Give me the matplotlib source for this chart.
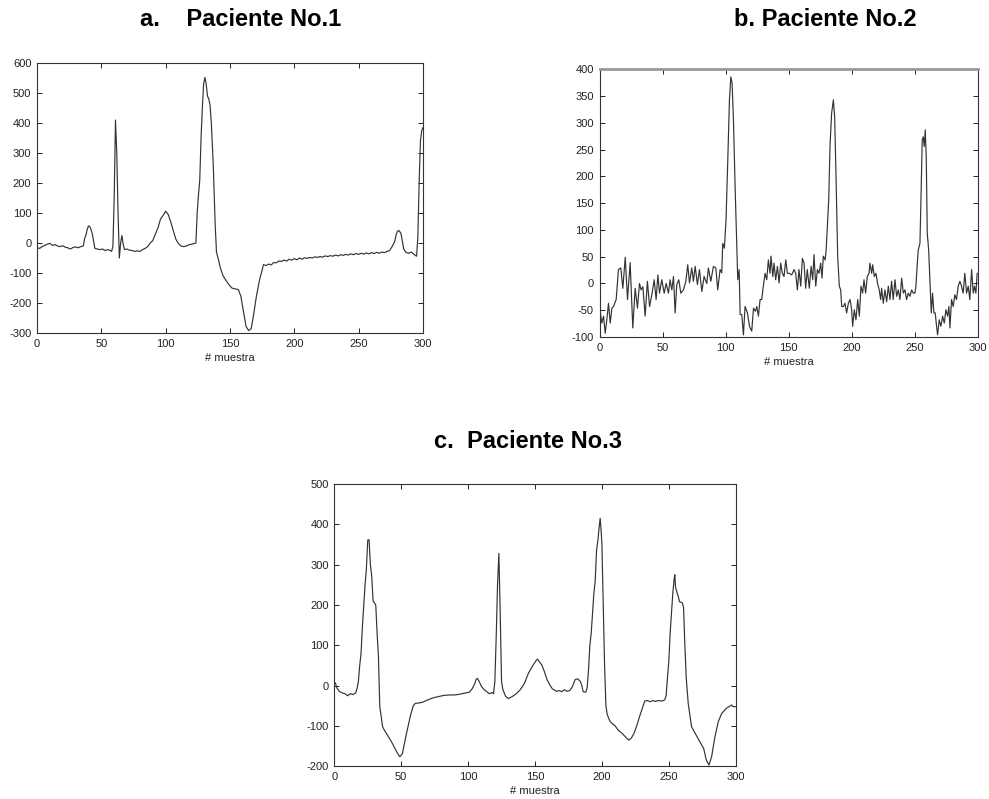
import matplotlib
matplotlib.use("Agg")
import matplotlib.pyplot as plt
from matplotlib.ticker import MultipleLocator

plt.rcParams["font.family"] = ["Liberation Sans", "DejaVu Sans"]
plt.rcParams["axes.unicode_minus"] = False

# --- Paciente No.1 ---
p1_x = [0, 2, 4, 6, 8, 10, 12, 14, 16, 18, 20, 22, 24, 26, 28, 30, 32, 34, 36, 37, 38, 39, 40, 41,
        42, 43, 44, 45, 47, 49, 51, 53, 55, 57, 58, 59, 60, 61, 62, 63, 64, 65, 66, 67, 68, 70, 72,
        74, 76, 78, 80, 82, 84, 86, 88, 90, 92, 94, 96, 98, 100, 102, 104, 106, 108, 110, 112, 114,
        116, 118, 120, 122, 123.5, 124.5, 125.5, 126.5, 127.5, 128.5, 129.5, 130.5, 131.5, 132.5,
        133.5, 134.5, 135.5, 137, 138.5, 139.5, 141, 142.5, 144.5, 146.5, 149, 151.5, 154, 156.5,
        158.5, 160.5, 162.5, 164.5, 166.5, 168.5, 170.5, 173, 175, 176, 178, 180, 182, 184, 186,
        188, 190, 192, 194, 196, 198, 200, 202, 204, 206, 208, 210, 212, 214, 216, 218, 220, 222,
        224, 226, 228, 230, 232, 234, 236, 238, 240, 242, 244, 246, 248, 250, 252, 254, 256, 258,
        260, 262, 264, 266, 268, 270, 272, 274, 276, 278, 279, 280, 281, 282, 283, 284, 285, 287,
        289, 291, 293, 295, 296, 297, 298, 299, 300]
p1_y = [-15, -18, -12, -8, -4, -1, -8, -5, -10, -12, -9, -14, -16, -20, -15, -13, -16, -12, -10, 15,
        25, 45, 57, 55, 45, 30, 5, -18, -20, -22, -20, -25, -22, -25, -28, -10, 150, 410, 300, 100,
        -50, 0, 25, -5, -22, -20, -24, -25, -28, -26, -28, -22, -18, -12, 0, 8, 30, 50, 80, 92, 106,
        95, 70, 40, 12, -2, -10, -12, -10, -6, -4, -2, 0, 100, 160, 210, 350, 450, 530, 552, 530,
        490, 480, 460, 400, 260, 60, -30, -55, -83, -108, -122, -138, -150, -153, -155, -178, -230,
        -278, -292, -285, -235, -178, -122, -90, -72, -75, -70, -73, -65, -66, -60, -61, -57, -60,
        -54, -57, -52, -56, -50, -54, -49, -51, -48, -50, -46, -48, -45, -47, -43, -45, -42, -44,
        -40, -43, -39, -41, -38, -40, -36, -39, -35, -38, -34, -37, -33, -36, -32, -35, -31, -34,
        -30, -32, -28, -25, -12, 5, 25, 38, 42, 38, 30, 5, -20, -32, -34, -30, -38, -44, 20, 200,
        340, 375, 385]

# --- Paciente No.2 ---
p2_x = [0.5, 1.8, 3.2, 4.5, 5.8, 7.1, 8.5, 9.8, 11.1, 13.2, 15, 16.9, 18.5, 20.4, 22.2, 24.3, 26.4,
        28.3, 30.1, 31.7, 33, 34.4, 36.2, 38, 39.7, 41.5, 43.4, 44.9, 46.3, 47.6, 49.4, 51.3, 52.9,
        54.7, 56, 57.4, 58.7, 60, 61.3, 62.9, 64.5, 66.6, 68.5, 70, 71.4, 73.2, 74.5, 75.9, 77.7,
        79.3, 81.2, 83, 85.1, 86.4, 88.3, 90.4, 92.3, 93.8, 95.7, 97, 97.8, 99.1, 100.4, 101.8,
        103.1, 104.2, 105.2, 106.3, 107.6, 108.9, 109.7, 110.8, 111.6, 112.9, 114.2, 115.5, 117.4,
        119, 120.8, 122.2, 123.7, 124.8, 126.1, 127.4, 128.7, 130, 131.4, 132.7, 134, 135.3, 136.1,
        137.5, 138.5, 139.8, 141.2, 142.5, 143.8, 145.1, 146.4, 147.8, 149.1, 150.7, 152.5, 154.4,
        155.7, 157, 158.3, 159.7, 161, 162.3, 163.6, 164.9, 166.5, 167.9, 169.2, 170.2, 171.6,
        172.9, 174.2, 175.5, 176.6, 177.6, 179, 179.8, 180.8, 181.9, 182.9, 184.2, 185.6, 186.6,
        187.7, 189, 190.3, 191.4, 192.2, 193.5, 194.8, 196.1, 197.5, 198.8, 200.1, 200.9, 202.2,
        203.5, 204.9, 206.2, 207.5, 208.8, 209.9, 211.2, 212.5, 213.9, 214.6, 216, 216.8, 218.1,
        219.4, 220.7, 222, 223.1, 223.9, 225.2, 226.5, 227.9, 229.2, 230.5, 231.8, 233.1, 234.5,
        235.8, 237.1, 238.4, 239.8, 241.1, 242.4, 243.7, 245, 246.4, 247.7, 249, 250.3, 251.1,
        252.2, 253, 254.3, 255.1, 256.1, 256.9, 257.7, 258.5, 259.3, 260.1, 261.2, 262.2, 263.3,
        264.3, 265.4, 266.4, 267.5, 268.3, 269.6, 270.9, 272.3, 273.6, 274.9, 276.2, 277.3, 278.1,
        279.4, 280.7, 282, 283.3, 284.7, 286, 287.3, 288.6, 289.9, 291.3, 292.6, 293.9, 295.3,
        296.6, 297.6, 298.7, 299.7]
p2_y = [-52, -74, -61, -93, -68, -37, -74, -46, -43, -30, 26, 29, -9, 49, -30, 39, -83, -9, -46, 0,
        -12, -6, -61, 4, -43, -21, 7, -30, 16, -18, 7, -18, 0, -18, 7, -12, 13, -55, -2, 7, -18,
        -12, 4, 35, 1, 29, 4, 32, -2, 26, -15, 13, 0, 29, 4, 32, 29, -12, 26, 20, 75, 66, 119, 231,
        343, 386, 374, 305, 181, 69, 7, 26, -58, -58, -96, -43, -55, -80, -89, -46, -52, -43, -61,
        -30, -30, -5, 19, 7, 44, 19, 51, 13, 38, 7, 32, 1, 38, 19, 13, 44, 19, 19, 16, 26, 19, -12,
        26, -5, 47, 38, -9, 26, -9, 32, 7, 54, -5, 26, 19, 38, 10, 51, 44, 60, 106, 156, 256, 318,
        343, 312, 200, 51, -5, -12, -43, -43, -37, -55, -37, -30, -49, -80, -49, -68, -30, -61, -5,
        -18, 7, -18, 13, 19, 38, 19, 35, 13, 19, 0, -12, -30, -9, -37, -12, -34, -5, -30, 4, -30, 7,
        -24, -12, -30, 10, -18, -12, -30, -18, -24, -12, -18, -18, -5, 38, 63, 75, 156, 268, 274,
        256, 287, 237, 94, 63, 7, -55, -18, -55, -55, -80, -96, -68, -80, -61, -74, -49, -61, -43,
        -83, -30, -43, -21, -30, -5, 4, -5, -18, 19, -18, -5, -30, 26, -18, -5, -18, 19]

# --- Paciente No.3 ---
p3_x = [0, 1, 2, 4, 6, 8, 10, 12, 14, 16, 17, 18, 19, 20, 21, 22, 23, 24, 25, 26, 27, 28, 29, 30,
        31, 32, 33, 34, 35, 36, 37, 40, 42, 44, 46, 48, 49, 50, 51, 52, 54, 56, 57, 59, 60.5, 63,
        66, 70, 74, 78, 82, 86, 90, 94, 98, 101, 103, 105, 106, 107, 108, 110, 112, 114, 116, 118,
        119, 120, 121, 122, 123, 124, 125, 126, 128, 130, 133, 136, 139, 142, 145, 148, 151, 152,
        153, 155, 157, 159, 161, 163, 166, 168, 170, 172, 174, 176, 178, 180, 182, 184, 185, 186,
        188, 189, 190, 191, 192, 193, 194, 195, 196, 197, 198, 198.7, 199.5, 200, 201, 202, 203,
        204, 206, 208, 210, 212, 215, 218, 220, 222, 224, 226, 228, 230, 232, 234, 236, 238, 240,
        242, 245, 247, 248, 249, 250, 251, 252, 253, 254, 254.5, 255, 256, 257, 258, 260, 261, 262,
        263, 264.5, 267, 271, 274.5, 276, 278, 280, 282, 284.5, 287, 289.5, 293, 297, 298, 300]
p3_y = [10, 5, -6, -15, -18, -20, -25, -20, -22, -18, -7, 10, 50, 80, 146, 200, 250, 290, 361, 362,
        300, 270, 210, 205, 200, 130, 72, -52, -75, -100, -108, -124, -135, -147, -160, -172, -176,
        -172, -168, -150, -118, -88, -73, -50, -44, -43, -41, -35, -30, -27, -24, -23, -23, -21,
        -18, -16, -8, 5, 16, 18, 12, -2, -10, -15, -20, -17, -20, 10, 120, 250, 328, 180, 10, -10,
        -26, -32, -27, -20, -10, 5, 30, 48, 63, 66, 60, 52, 35, 15, 2, -8, -14, -12, -15, -10, -14,
        -12, -2, 15, 17, 10, 0, -15, -16, -5, 40, 100, 130, 180, 229, 260, 336, 360, 395, 415, 380,
        350, 200, 50, -50, -72, -88, -95, -100, -110, -118, -128, -135, -130, -118, -100, -78, -58,
        -38, -37, -40, -37, -39, -37, -38, -35, -25, 20, 60, 130, 180, 230, 265, 275, 245, 232,
        222, 208, 206, 195, 100, 20, -44, -102, -126, -147, -155, -184, -197, -176, -126, -89, -69,
        -56, -48, -52, -52]

x_ticks = [0, 50, 100, 150, 200, 250, 300]
x_label = "# muestra"

fig = plt.figure(figsize=(9.89, 7.99), dpi=100)

ax_a = fig.add_axes([0.0374, 0.5832, 0.3903, 0.3379])
ax_b = fig.add_axes([0.6062, 0.5782, 0.3822, 0.3350])
ax_c = fig.add_axes([0.3380, 0.0409, 0.4059, 0.3533])

panels = [
    (ax_a, p1_x, p1_y, (-300, 600), 100),
    (ax_b, p2_x, p2_y, (-100, 400), 50),
    (ax_c, p3_x, p3_y, (-200, 500), 100),
]

for ax, xs, ys, ylim, ystep in panels:
    ax.plot(xs, ys, color="#333333", lw=0.85)
    ax.set_xlim(0, 300)
    ax.set_ylim(*ylim)
    ax.set_xticks(x_ticks)
    ax.yaxis.set_major_locator(MultipleLocator(ystep))
    ax.tick_params(direction="in", top=True, right=True, length=3.5, width=0.7,
                   labelsize=8, pad=4, colors="#222222")
    for sp in ax.spines.values():
        sp.set_linewidth(0.8)
        sp.set_color("#333333")
    ax.set_xlabel(x_label, fontsize=8, labelpad=3, color="#222222")

# grey band on top border of panel b
ax_b.spines["top"].set_color("#999999")
ax_b.spines["top"].set_linewidth(2.0)

title_kw = dict(fontsize=17, fontweight="bold", ha="center", va="center")
fig.text(241 / 989, 1 - 19 / 799, "a.    Paciente No.1", **title_kw)
fig.text(825 / 989, 1 - 19 / 799, "b. Paciente No.2", **title_kw)
fig.text(528 / 989, 1 - 442 / 799, "c.  Paciente No.3", **title_kw)

fig.savefig("out.png", dpi=100)
